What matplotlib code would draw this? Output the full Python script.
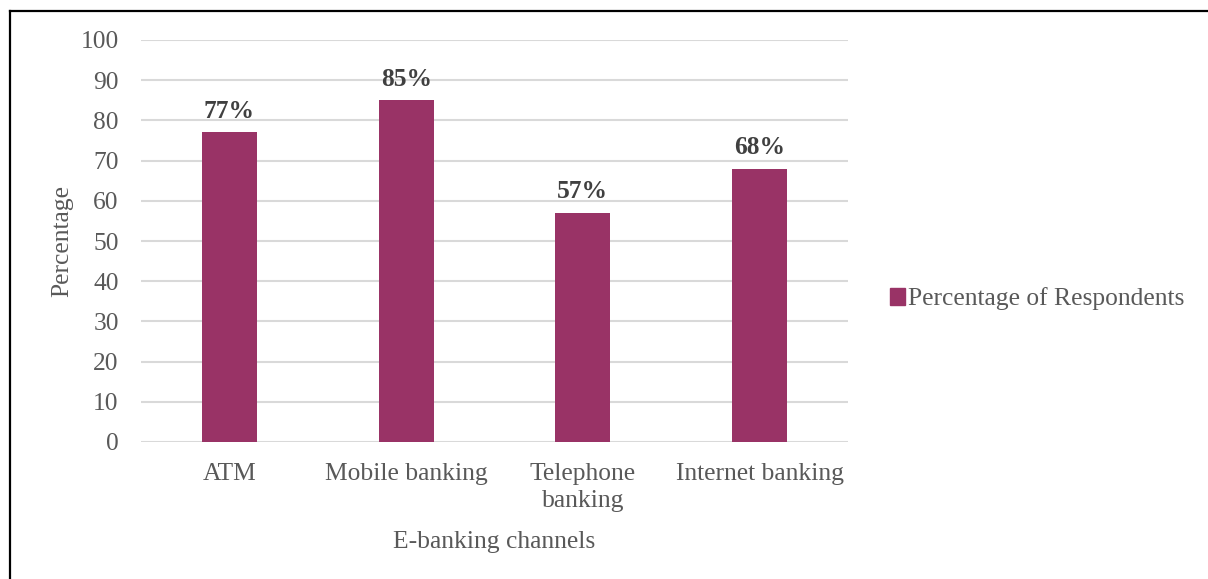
import matplotlib.pyplot as plt
from matplotlib.patches import Patch
from matplotlib.lines import Line2D

categories = ["ATM", "Mobile banking", "Telephone\nbanking", "Internet banking"]
values = [77, 85, 57, 68]
labels = ["77%", "85%", "57%", "68%"]
series_name = "Percentage of Respondents"
yticks = [0, 10, 20, 30, 40, 50, 60, 70, 80, 90, 100]

plt.rcParams['font.family'] = ['Liberation Serif', 'DejaVu Serif']
bar_color = "#993366"
text_color = "#595959"
fs = 18.4

fig = plt.figure(figsize=(12.08, 5.79), dpi=100)
ax = fig.add_axes([141/1208, 1-442/579, (848-141)/1208, (442-40)/579])

x = list(range(len(categories)))
ax.bar(x, values, width=0.31, color=bar_color, zorder=3)
for xi, v, lab in zip(x, values, labels):
    ax.text(xi, v + 2.4, lab, ha='center', va='bottom', fontsize=fs,
            fontweight='bold', color='#404040')

ax.set_xlim(-0.5, len(categories) - 0.5)
ax.set_ylim(0, 100)
ax.set_yticks(yticks)
ax.set_xticks(x)
ax.set_xticklabels(categories, fontsize=fs, color=text_color, linespacing=1.28)
ax.tick_params(axis='y', labelsize=fs, labelcolor=text_color, length=0, pad=16)
ax.tick_params(axis='x', length=0, pad=15)
ax.grid(axis='y', color='#d9d9d9', linewidth=1.5, zorder=0)
for s in ax.spines.values():
    s.set_visible(False)

ax.set_ylabel("Percentage", fontsize=fs, color=text_color, labelpad=5)
ax.set_xlabel("E-banking channels", fontsize=fs, color=text_color, labelpad=14)

fig.legend(handles=[Patch(color=bar_color, label=series_name)],
           loc='center left', bbox_to_anchor=(867/1208, 1-299/579),
           frameon=False, fontsize=fs, handlelength=0.6, handleheight=0.6,
           handletextpad=0.12, labelcolor=text_color)

fig.add_artist(Line2D([9.5/1208, 1], [1-10.5/579, 1-10.5/579],
                      transform=fig.transFigure, color='black', linewidth=1.6))
fig.add_artist(Line2D([9.5/1208, 9.5/1208], [0, 1-10.5/579],
                      transform=fig.transFigure, color='black', linewidth=1.6))

fig.savefig("out.png", dpi=100)
